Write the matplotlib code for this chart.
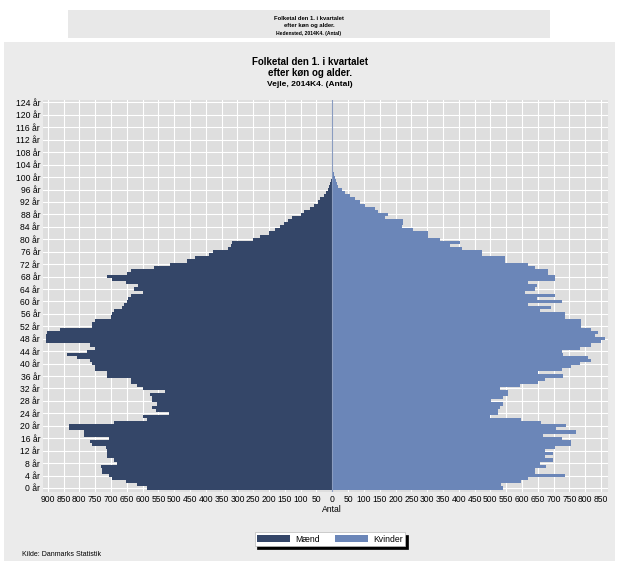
import numpy as np
import matplotlib
matplotlib.use("Agg")
import matplotlib.pyplot as plt
from matplotlib.patches import Rectangle

# Folketal efter alder, Vejle 2014K4
alder = np.arange(0, 105)
maend = [586, 617, 654, 696, 707, 728, 728, 733, 680, 691,
         712, 712, 712, 717, 759, 765, 707, 786, 786, 833,
         833, 691, 586, 600, 517, 559, 570, 554, 570, 570,
         575, 528, 600, 617, 638, 638, 712, 712, 749, 749,
         759, 765, 807, 838, 775, 749, 765, 907, 907, 907,
         902, 860, 759, 759, 749, 700, 696, 692, 665, 660,
         649, 645, 638, 600, 628, 613, 654, 696, 712, 650,
         638, 565, 512, 459, 433, 390, 376, 329, 320, 317,
         250, 228, 201, 180, 165, 154, 139, 127, 100, 91,
         72, 57, 45, 38, 27, 20, 14, 10, 6, 4,
         2, 2, 1, 1, 0]
kvinder = [540, 535, 598, 619, 735, 640, 640, 677, 656, 698,
           672, 698, 672, 704, 756, 756, 725, 667, 772, 709,
           740, 661, 598, 498, 524, 524, 530, 540, 503, 540,
           556, 556, 530, 593, 651, 672, 730, 651, 725, 756,
           783, 819, 809, 730, 725, 783, 819, 851, 862, 830,
           841, 819, 788, 788, 788, 735, 735, 656, 693, 619,
           725, 646, 704, 609, 640, 646, 619, 704, 704, 683,
           683, 640, 619, 546, 546, 472, 472, 409, 372, 403,
           340, 303, 303, 256, 219, 224, 224, 166, 177, 145,
           135, 103, 87, 72, 56, 40, 30, 19, 15, 12,
           10, 6, 3, 1, 1]

x_ticks = list(range(-900, 851, 50))
y_ticks = list(range(0, 125, 4))

W, H = 618, 561
farve_m = "#344668"
farve_k = "#6b86b8"
skrift = ["Liberation Sans Narrow", "Liberation Sans", "DejaVu Sans"]
plt.rcParams["font.family"] = skrift

fig = plt.figure(figsize=(W / 100, H / 100), dpi=100)
fig.patch.set_facecolor("white")


def px(x, y, w, h):
    # pixel-boks (fra øverste venstre hjørne) -> figurbrøk
    return x / W, 1 - (y + h) / H, w / W, h / H


# baggrunde
for (bx, by, bw, bh), c in [((68, 10, 482, 28), "#e8e8e8"),
                            ((4, 42, 611, 519), "#ebebeb")]:
    l, b, w, h = px(bx, by, bw, bh)
    fig.patches.append(Rectangle((l, b), w, h, transform=fig.transFigure,
                                 facecolor=c, edgecolor="none", zorder=-5))

# lille overskrift i toppen
for i, (t, s) in enumerate([("Folketal den 1. i kvartalet", 4.2),
                            ("efter køn og alder.", 4.2),
                            ("Hedensted, 2014K4. (Antal)", 3.6)]):
    fig.text(309 / W, 1 - (18 + 8 * i) / H, t, ha="center", va="center",
             fontsize=s, fontweight="bold", family=skrift)

# hovedtitel
for i, (t, s) in enumerate([("Folketal den 1. i kvartalet", 7),
                            ("efter køn og alder.", 7),
                            ("Vejle, 2014K4. (Antal)", 6)]):
    fig.text(310 / W, 1 - (62 + 11.5 * i) / H, t, ha="center", va="center",
             fontsize=s, fontweight="bold", family=skrift)

ax = fig.add_axes(px(43, 100, 565, 392))
ax.set_facecolor("#dedede")
ax.barh(alder, [-v for v in maend], height=1.0, color=farve_m, label="Mænd", zorder=2)
ax.barh(alder, kvinder, height=1.0, color=farve_k, label="Kvinder", zorder=2)
ax.axvline(0, color="#8a9cc0", lw=0.8, zorder=3)

ax.set_xlim(-915, 872)
ax.set_ylim(-1.3, 124.8)
ax.set_xticks(x_ticks)
ax.set_xticklabels([str(abs(v)) for v in x_ticks], fontsize=6.2)
ax.set_yticks(y_ticks)
ax.set_yticklabels([f"{v} år" for v in y_ticks], fontsize=6.2)
ax.tick_params(length=0, pad=2)
ax.set_axisbelow(True)
ax.grid(True, color="white", lw=0.8)
for s in ax.spines.values():
    s.set_visible(False)

fig.text(332 / W, 1 - 510 / H, "Antal", ha="center", va="center", fontsize=6.2)

leg = fig.legend(handles=ax.patches[:1] + ax.patches[-1:], labels=["Mænd", "Kvinder"],
                 loc="center", bbox_to_anchor=(330 / W, 1 - 539 / H), ncol=2,
                 fontsize=6.2, frameon=True, fancybox=False, edgecolor="#bbbbbb",
                 handlelength=3.8, handleheight=0.9, columnspacing=1.8,
                 borderpad=0.3, handletextpad=0.6,
                 shadow={"color": "black", "alpha": 1.0})
leg.get_frame().set_linewidth(0.5)

fig.text(22 / W, 1 - 555 / H, "Kilde: Danmarks Statistik", ha="left", va="center",
         fontsize=5)

fig.savefig("out.png", dpi=100, facecolor=fig.get_facecolor())
